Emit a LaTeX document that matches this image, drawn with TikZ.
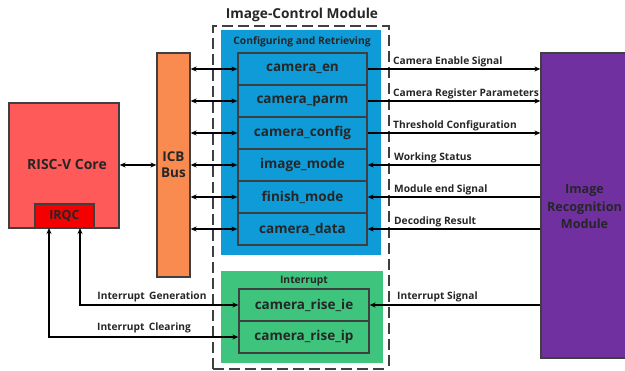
\documentclass[tikz,border=0pt]{standalone}
\usepackage{fontspec}
\setmainfont{Open Sans}
\usetikzlibrary{arrows.meta}
\definecolor{corered}{HTML}{FF5A5A}
\definecolor{irqred}{HTML}{F50000}
\definecolor{busorange}{HTML}{F98B50}
\definecolor{regblue}{HTML}{0E9BD8}
\definecolor{intgreen}{HTML}{3FC47D}
\definecolor{recpurple}{HTML}{7030A0}
\definecolor{edge}{HTML}{3F3F3F}
\begin{document}
\begin{tikzpicture}[x=1pt,y=-1pt,
  blockbox/.style={draw=edge, line width=1.3pt, inner sep=0pt},
  regbox/.style={blockbox, fill=regblue, minimum width=129pt, minimum height=32pt,
                 font=\bfseries\fontsize{13.5}{14}\selectfont, text=black!85},
  intbox/.style={regbox, fill=intgreen, minimum width=130pt},
  wire/.style={line width=1.3pt, black},
  biarrow/.style={wire, {Stealth[length=6pt,width=5pt]}-{Stealth[length=6pt,width=5pt]}},
  toarrow/.style={wire, -{Stealth[length=6pt,width=5pt]}},
  siglabel/.style={anchor=base west, inner sep=0pt, font=\bfseries\fontsize{10.2}{11}\selectfont, text=black!85},
  title/.style={inner sep=0pt, font=\bfseries\fontsize{10.3}{11}\selectfont, text=black!85}
]
\useasboundingbox (0,0) rectangle (625,371);

% processor side
\node[blockbox, fill=corered, minimum width=110pt, minimum height=125pt] (core) at (64,165.5) {};
\node[font=\bfseries\fontsize{14}{15}\selectfont, text=black!85] (coretext) at (67,165) {RISC-V Core};
\node[blockbox, fill=irqred, minimum width=59pt, minimum height=24pt,
      font=\bfseries\fontsize{12.5}{13}\selectfont, text=black!85] (irqc) at (64.5,216) {IRQC};
\node[blockbox, fill=busorange, minimum width=33pt, minimum height=224pt,
      font=\bfseries\fontsize{13.5}{16}\selectfont, text=black!85, align=center] (bus) at (173.5,165) {ICB\\Bus};

% image-control module frame
\draw[edge, line width=1.2pt, dash pattern=on 11pt off 5pt] (213,369) -- (213,26) -- (389,26) -- (389,369);
\draw[edge, line width=1.2pt, dash pattern=on 11pt off 5pt] (213,369) -- (389,369);
\node[font=\bfseries\fontsize{13.7}{14}\selectfont, text=black!85] (modtitle) at (302,15) {Image-Control Module};

% register groups
\node[fill=regblue, minimum width=160pt, minimum height=225pt, inner sep=0pt] (cfg) at (301,142.5) {};
\node[title] (cfgtitle) at (302,42) {Configuring and Retrieving};
\node[fill=intgreen, minimum width=162pt, minimum height=92pt, inner sep=0pt] (intg) at (302,317) {};
\node[title] (inttitle) at (304,281) {Interrupt};

\node[regbox] (r1) at (302.5,69) {camera\_en};
\node[regbox] (r2) at (302.5,101) {camera\_parm};
\node[regbox] (r3) at (302.5,133) {camera\_config};
\node[regbox] (r4) at (302.5,165) {image\_mode};
\node[regbox] (r5) at (302.5,197) {finish\_mode};
\node[regbox] (r6) at (302.5,229) {camera\_data};
\node[intbox] (ie) at (304,305) {camera\_rise\_ie};
\node[intbox] (ip) at (304,337) {camera\_rise\_ip};

% recognition module
\node[blockbox, fill=recpurple, minimum width=90pt, minimum height=305pt] (rec) at (586,205.5) {};
\node[font=\bfseries\fontsize{12.6}{17.5}\selectfont, text=black!85, align=center] (rectext) at (584.5,207)
  {Image\\Recognition\\Module};

% bus connections
\draw[biarrow] (core.east |- coretext) -- (bus.west |- coretext);
\foreach \r in {r1,r2,r3,r4,r5,r6}
  \draw[biarrow] (bus.east |- \r.west) -- (\r.west);

% interrupt lines
\coordinate (gen) at (80,228);
\coordinate (clr) at (49,228);
\draw[biarrow] (ie.west) -| (gen);
\draw[biarrow] (ip.west) -| (clr);
\node[siglabel, anchor=base] (genlabel) at (152,299.5) {Interrupt\, Generation};
\node[siglabel, anchor=base] (clrlabel) at (144,331) {Interrupt\, Clearing};

% recognition signals
\draw[toarrow] (r1.east) -- (rec.west |- r1.east);
\draw[toarrow] (r2.east) -- (rec.west |- r2.east);
\draw[toarrow] (r3.east) -- (rec.west |- r3.east);
\draw[toarrow] (rec.west |- r4.east) -- (r4.east);
\draw[toarrow] (rec.west |- r5.east) -- (r5.east);
\draw[toarrow] (rec.west |- r6.east) -- (r6.east);
\draw[toarrow] (rec.west |- ie.east) -- (ie.east);

\node[siglabel] (l1) at (393,65) {Camera Enable Signal};
\node[siglabel] (l2) at (393,97) {Camera Register Parameters};
\node[siglabel] (l3) at (393,129) {Threshold Configuration};
\node[siglabel] (l4) at (394,161) {Working Status};
\node[siglabel] (l5) at (394,193) {Module end Signal};
\node[siglabel] (l6) at (394,225) {Decoding Result};
\node[siglabel] (l7) at (397,300) {Interrupt Signal};
\end{tikzpicture}
\end{document}
